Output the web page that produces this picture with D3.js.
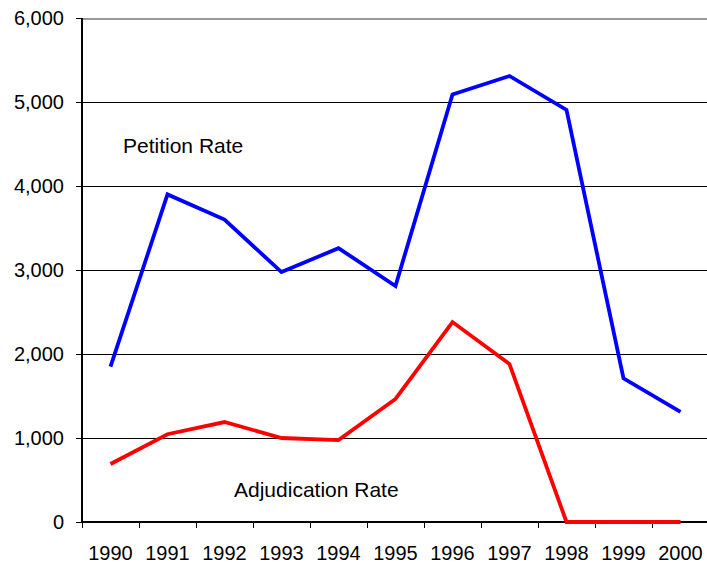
<!DOCTYPE html>
<html>
<head>
<meta charset="utf-8">
<script src="https://cdn.jsdelivr.net/npm/d3@7"></script>
<style>
  body { margin: 0; background: #fff; }
  text { font-family: "Liberation Sans", Arial, sans-serif; }
</style>
</head>
<body>
<svg width="707" height="567"></svg>
<script>
// values
var years = ["1990","1991","1992","1993","1994","1995","1996","1997","1998","1999","2000"];
var petition = [1850, 3900, 3600, 2975, 3260, 2810, 5090, 5310, 4905, 1710, 1310];
var adjudication = [690, 1045, 1190, 1000, 975, 1465, 2380, 1880, 0, 0, 0];
var yTicks = [0, 1000, 2000, 3000, 4000, 5000, 6000];

var svg = d3.select("svg");
var margin = {top: 18, right: -2, bottom: 45, left: 82},
    width = +svg.attr("width") - margin.left - margin.right,
    height = +svg.attr("height") - margin.top - margin.bottom;
var g = svg.append("g").attr("transform", "translate(" + margin.left + "," + margin.top + ")");

var x = d3.scaleBand().domain(years).range([0, width]);
var y = d3.scaleLinear().domain([0, 6000]).range([height, 0]);
var fmt = d3.format(",");

// gridlines
g.selectAll("line.grid")
  .data(yTicks.filter(function(d) { return d > 0; }))
  .enter().append("line")
    .attr("class", "grid")
    .attr("x1", 0).attr("x2", width)
    .attr("y1", function(d) { return y(d) + 0.5; })
    .attr("y2", function(d) { return y(d) + 0.5; })
    .attr("stroke", function(d) { return d === 6000 ? "#999" : "#000"; })
    .attr("stroke-width", function(d) { return d === 6000 ? 2 : 1; })
    .attr("shape-rendering", "crispEdges");

// y axis
var yAxis = g.append("g")
  .call(d3.axisLeft(y).tickValues(yTicks).tickFormat(fmt).tickSize(6).tickPadding(12));
yAxis.select(".domain").attr("stroke", "#000").attr("stroke-width", 2).attr("d", "M0," + height + "V0");
yAxis.selectAll(".tick line").attr("stroke", "#000").attr("shape-rendering", "crispEdges");
yAxis.selectAll("text").attr("font-size", 20).attr("fill", "#000")
  .style("font-family", "'Liberation Sans', Arial, sans-serif");

// x axis: ticks between categories
var xAxis = g.append("g").attr("transform", "translate(0," + height + ")");
xAxis.append("line")
  .attr("x1", 0).attr("x2", width).attr("y1", 0).attr("y2", 0)
  .attr("stroke", "#000").attr("stroke-width", 2);
var edges = years.map(function(d) { return x(d); });
xAxis.selectAll("line.tick")
  .data(edges)
  .enter().append("line")
    .attr("class", "tick")
    .attr("x1", function(d) { return d; }).attr("x2", function(d) { return d; })
    .attr("y1", 0).attr("y2", 6)
    .attr("stroke", "#000").attr("stroke-width", 1)
    .attr("shape-rendering", "crispEdges");
xAxis.selectAll("text")
  .data(years)
  .enter().append("text")
    .attr("x", function(d) { return x(d) + x.bandwidth() / 2; })
    .attr("y", 38)
    .attr("text-anchor", "middle")
    .attr("font-size", 20)
    .attr("fill", "#000")
    .text(function(d) { return d; });

var line = d3.line()
  .x(function(d, i) { return x(years[i]) + x.bandwidth() / 2; })
  .y(function(d) { return y(d); });

g.append("path")
  .datum(petition)
  .attr("fill", "none")
  .attr("stroke", "#0000ff")
  .attr("stroke-width", 3.8)
  .attr("stroke-linejoin", "miter")
  .attr("d", line);

g.append("path")
  .datum(adjudication)
  .attr("fill", "none")
  .attr("stroke", "#ff0000")
  .attr("stroke-width", 3.8)
  .attr("stroke-linejoin", "miter")
  .attr("d", line);

// series labels
g.append("text")
  .attr("x", 41).attr("y", 135)
  .attr("font-size", 21)
  .attr("fill", "#000")
  .text("Petition Rate");
g.append("text")
  .attr("x", 152).attr("y", 479)
  .attr("font-size", 21)
  .attr("fill", "#000")
  .text("Adjudication Rate");
</script>
</body>
</html>
